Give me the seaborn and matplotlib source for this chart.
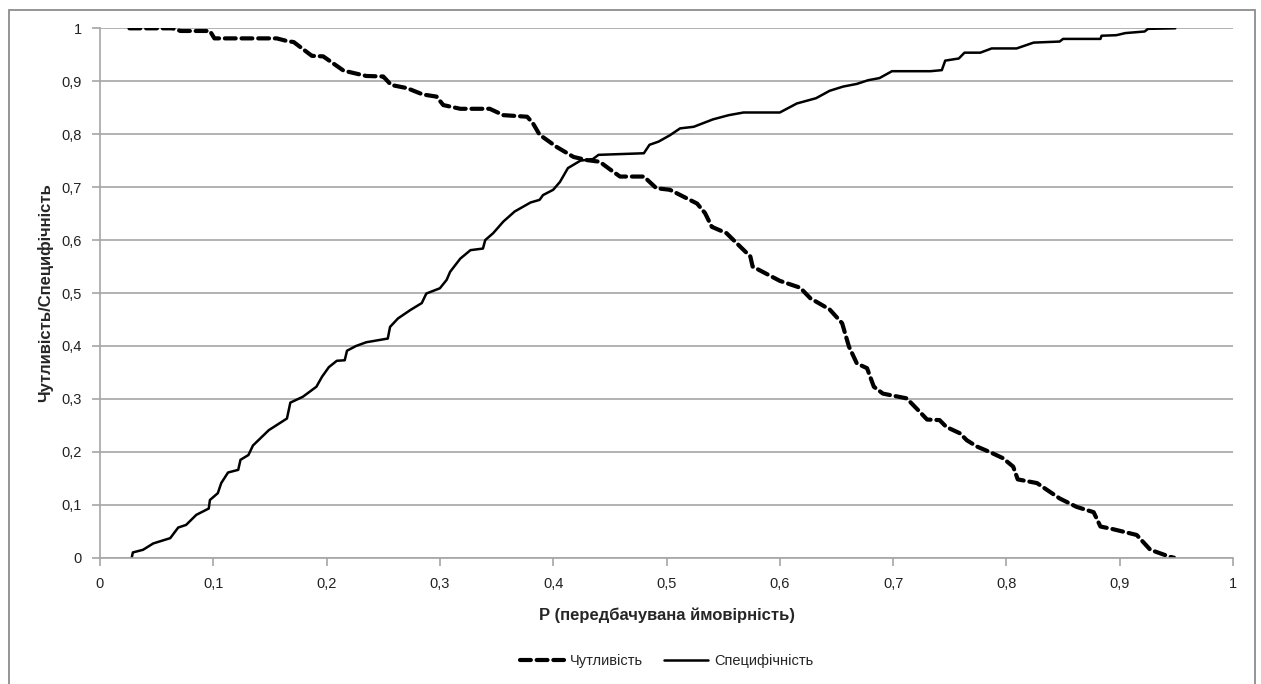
import matplotlib
matplotlib.use("Agg")
import matplotlib.pyplot as plt
import seaborn as sns
import pandas as pd
from matplotlib.patches import Rectangle
from matplotlib.ticker import FuncFormatter, MultipleLocator

# Sensitivity curve (threshold P vs. sensitivity)
sens_p = [0.026, 0.064, 0.071, 0.097, 0.101, 0.156, 0.165, 0.171, 0.187, 0.197,
          0.215, 0.235, 0.250, 0.257, 0.271, 0.285, 0.297, 0.303, 0.318, 0.344,
          0.356, 0.377, 0.382, 0.388, 0.403, 0.418, 0.430, 0.441, 0.453, 0.459,
          0.480, 0.491, 0.503, 0.515, 0.527, 0.534, 0.540, 0.553, 0.562, 0.574,
          0.576, 0.600, 0.618, 0.627, 0.644, 0.655, 0.661, 0.668, 0.677, 0.683,
          0.691, 0.712, 0.722, 0.730, 0.741, 0.747, 0.759, 0.765, 0.774, 0.786,
          0.797, 0.806, 0.810, 0.827, 0.838, 0.847, 0.862, 0.877, 0.883, 0.894,
          0.915, 0.927, 0.944, 0.948]
sens_v = [1.000, 1.000, 0.995, 0.995, 0.981, 0.981, 0.976, 0.974, 0.948, 0.947,
          0.920, 0.910, 0.909, 0.893, 0.887, 0.875, 0.871, 0.855, 0.848, 0.848,
          0.836, 0.833, 0.821, 0.799, 0.776, 0.757, 0.751, 0.748, 0.729, 0.720,
          0.720, 0.698, 0.695, 0.682, 0.669, 0.651, 0.625, 0.613, 0.594, 0.569,
          0.550, 0.523, 0.510, 0.490, 0.469, 0.443, 0.399, 0.367, 0.358, 0.323,
          0.310, 0.301, 0.279, 0.261, 0.260, 0.247, 0.235, 0.222, 0.210, 0.199,
          0.188, 0.172, 0.148, 0.141, 0.125, 0.112, 0.096, 0.086, 0.059, 0.054,
          0.043, 0.015, 0.002, 0.000]

# Specificity curve (threshold P vs. specificity)
spec_p = [0.028, 0.029, 0.038, 0.047, 0.062, 0.069, 0.076, 0.085, 0.096, 0.097,
          0.104, 0.107, 0.113, 0.122, 0.124, 0.131, 0.135, 0.149, 0.165, 0.168,
          0.179, 0.191, 0.196, 0.202, 0.209, 0.216, 0.218, 0.226, 0.235, 0.254,
          0.256, 0.263, 0.274, 0.284, 0.288, 0.300, 0.306, 0.309, 0.318, 0.327,
          0.338, 0.340, 0.347, 0.356, 0.366, 0.380, 0.388, 0.391, 0.400, 0.406,
          0.413, 0.424, 0.435, 0.440, 0.480, 0.485, 0.493, 0.503, 0.512, 0.524,
          0.541, 0.555, 0.568, 0.600, 0.615, 0.632, 0.644, 0.656, 0.668, 0.678,
          0.688, 0.699, 0.733, 0.743, 0.746, 0.758, 0.763, 0.777, 0.787, 0.809,
          0.824, 0.847, 0.850, 0.883, 0.884, 0.897, 0.905, 0.922, 0.925, 0.949]
spec_v = [0.000, 0.010, 0.015, 0.027, 0.037, 0.057, 0.062, 0.081, 0.093, 0.109,
          0.122, 0.141, 0.161, 0.166, 0.185, 0.194, 0.212, 0.241, 0.263, 0.293,
          0.304, 0.323, 0.342, 0.360, 0.372, 0.373, 0.391, 0.400, 0.407, 0.414,
          0.436, 0.452, 0.468, 0.481, 0.499, 0.509, 0.525, 0.540, 0.565, 0.581,
          0.584, 0.600, 0.613, 0.635, 0.654, 0.671, 0.676, 0.685, 0.695, 0.710,
          0.736, 0.750, 0.753, 0.761, 0.764, 0.780, 0.786, 0.798, 0.811, 0.814,
          0.828, 0.836, 0.841, 0.841, 0.858, 0.868, 0.882, 0.890, 0.895, 0.902,
          0.906, 0.919, 0.919, 0.921, 0.939, 0.943, 0.954, 0.954, 0.962, 0.962,
          0.973, 0.975, 0.980, 0.980, 0.986, 0.987, 0.991, 0.994, 0.999, 1.000]

label_sens = "Чутливість"
label_spec = "Специфічність"
x_title = "P (передбачувана ймовірність)"
y_title = "Чутливість/Специфічність"

sns.set_theme(style="white")
plt.rcParams["font.family"] = ["Liberation Sans", "DejaVu Sans"]

fig = plt.figure(figsize=(12.61, 6.84), dpi=100)
ax = fig.add_axes([0.0793, 0.1846, 0.8985, 0.774])

df_sens = pd.DataFrame({"p": sens_p, "v": sens_v})
df_spec = pd.DataFrame({"p": spec_p, "v": spec_v})

sns.lineplot(data=df_sens, x="p", y="v", ax=ax, color="black", linewidth=3.0,
             linestyle=(0, (2.6, 1.4)), estimator=None, sort=False,
             label=label_sens, dash_capstyle="round")
sns.lineplot(data=df_spec, x="p", y="v", ax=ax, color="black", linewidth=1.8,
             estimator=None, sort=False, label=label_spec)

ax.set_xlim(0, 1)
ax.set_ylim(0, 1)
ax.xaxis.set_major_locator(MultipleLocator(0.1))
ax.yaxis.set_major_locator(MultipleLocator(0.1))
fmt = FuncFormatter(lambda v, _: ("%g" % round(v, 1)).replace(".", ","))
ax.xaxis.set_major_formatter(fmt)
ax.yaxis.set_major_formatter(fmt)

grid_c = "#a6a6a6"
ax.grid(axis="y", color=grid_c, linewidth=1.2)
ax.grid(axis="x", visible=False)
ax.set_axisbelow(True)
for side in ["top", "right"]:
    ax.spines[side].set_visible(False)
for side in ["left", "bottom"]:
    ax.spines[side].set_color(grid_c)
    ax.spines[side].set_linewidth(1.2)

ax.tick_params(axis="both", which="major", direction="out", length=6,
               width=1.2, color=grid_c, labelsize=10.5, labelcolor="#222222",
               left=True, bottom=True)
ax.tick_params(axis="x", pad=8)
ax.tick_params(axis="y", pad=7)

ax.set_xlabel(x_title, fontsize=12, fontweight="bold", labelpad=12)
ax.set_ylabel(y_title, fontsize=12, fontweight="bold", labelpad=6)

leg = ax.legend(loc="center", bbox_to_anchor=(0.5, -0.195), ncol=2,
                frameon=False, fontsize=10.5, handlelength=3.0,
                handletextpad=0.4, columnspacing=1.5)

# Outer chart frame
fig.patches.append(Rectangle((8.5 / 1261, -0.05), (1255 - 8.5) / 1261,
                             (684 - 10 + 34) / 684, transform=fig.transFigure,
                             fill=False, edgecolor="#8c8c8c", linewidth=1.3))

fig.savefig("out.png", dpi=100, facecolor="white")
